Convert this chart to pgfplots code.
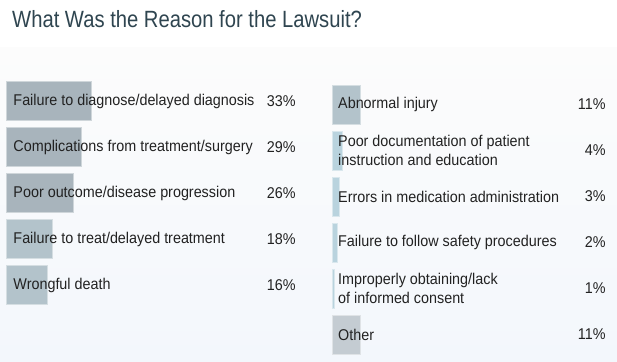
\documentclass[border=0pt]{standalone}
\usepackage{pgfplots}
\pgfplotsset{compat=1.18}
\usepackage{pgfplotstable}
\usepackage{fontspec}
\setmainfont{Liberation Sans}[FakeStretch=0.92]
\newfontfamily\titlefont{Liberation Sans}[FakeStretch=0.86]
\definecolor{bgtop}{HTML}{FCFCFC}
\definecolor{bgbot}{HTML}{F3F7FC}
\definecolor{titlec}{HTML}{2F4550}
\definecolor{txt}{HTML}{222222}
\definecolor{barA}{HTML}{A8B4BC}
\definecolor{barB}{HTML}{B3C3CB}
\definecolor{barC}{HTML}{B9D3DE}
\definecolor{barD}{HTML}{C4CCD2}

\pgfplotstableread{
idx val
0 33
1 29
2 26
3 18
4 16
}\lefttab
\pgfplotstableread{
idx val
0 11
1 4
2 3
3 2
4 1
5 11
}\righttab

\pgfplotsset{
  reasonaxis/.style={
    anchor=north west, x=2.6bp, y=46bp, y dir=reverse,
    xmin=0, ymin=-0.5, axis on top,
    axis line style={draw=none}, major tick length=0pt,
    xtick=\empty,
    yticklabel style={anchor=west, inner sep=0pt, align=left,
      font=\fontsize{15.6bp}{19bp}\selectfont, text=txt},
    clip=false,
    /pgf/number format/assume math mode=true,
  },
  onebar/.style={xbar, bar width=39bp, bar shift=0pt, fill=#1, draw=#1!55!white, line width=0.8bp},
  pctlabels/.style={draw=none, mark=none,
    nodes near coords={\pgfmathprintnumber{\pgfplotspointmeta}\%},
    point meta=explicit,
    every node near coord/.style={anchor=east, inner sep=0pt,
      font=\fontsize{15.6bp}{19bp}\selectfont, text=txt}},
}

\begin{document}
\begin{tikzpicture}
\path[use as bounding box] (0,0) rectangle (617bp,-362bp);
\fill[white] (0,0) rectangle (617bp,-362bp);
\shade[top color=bgtop, bottom color=bgbot] (0,-47bp) rectangle (617bp,-362bp);
\node[anchor=base west, inner sep=0pt, text=titlec,
  font=\titlefont\fontsize{23.5bp}{28bp}\selectfont] at (12bp,-27.5bp)
  {What Was the Reason for the Lawsuit?};

\begin{axis}[reasonaxis, at={(6bp,-78.2bp)}, xmax=111.5, ymax=4.5,
  ytick={0,1,2,3,4},
  yticklabel style={xshift=7.3bp},
  yticklabels={Failure to diagnose/delayed diagnosis,
    Complications from treatment/surgery,
    Poor outcome/disease progression,
    Failure to treat/delayed treatment,
    Wrongful death}]
\addplot[onebar=barA] coordinates {(33,0)};
\addplot[onebar=barA] coordinates {(29,1)};
\addplot[onebar=barA] coordinates {(26,2)};
\addplot[onebar=barB] coordinates {(18,3)};
\addplot[onebar=barB] coordinates {(16,4)};
\addplot[pctlabels] table[x expr=111.5, y=idx, meta=val] \lefttab;
\end{axis}

\begin{axis}[reasonaxis, at={(332bp,-81.5bp)}, xmax=105.3, ymax=5.5,
  ytick={0,1,2,3,4,5},
  yticklabel style={xshift=6bp},
  yticklabels={Abnormal injury,
    {Poor documentation of patient\\instruction and education},
    Errors in medication administration,
    Failure to follow safety procedures,
    {Improperly obtaining/lack\\of informed consent},
    Other}]
\addplot[onebar=barB] coordinates {(11,0)};
\addplot[onebar=barC] coordinates {(4,1)};
\addplot[onebar=barC] coordinates {(3,2)};
\addplot[onebar=barC] coordinates {(2,3)};
\addplot[onebar=barC] coordinates {(1,4)};
\addplot[onebar=barD] coordinates {(11,5)};
\addplot[pctlabels] table[x expr=105.3, y=idx, meta=val] \righttab;
\end{axis}
\end{tikzpicture}
\end{document}
